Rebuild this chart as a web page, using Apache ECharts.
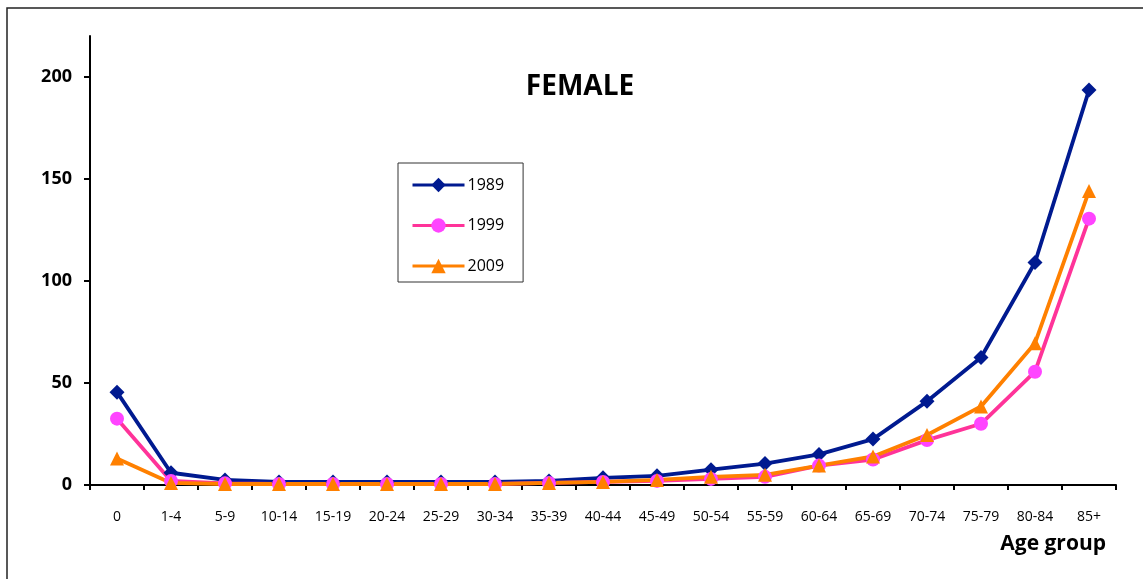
<!DOCTYPE html>
<html>
<head>
<meta charset="utf-8">
<script src="https://cdn.jsdelivr.net/npm/echarts@6/dist/echarts.min.js"></script>
<style>
html,body{margin:0;padding:0;background:#fff;}
#c{width:1143px;height:579px;}
</style>
</head>
<body>
<div id="c"></div>
<script>
const categories = ['0','1-4','5-9','10-14','15-19','20-24','25-29','30-34','35-39','40-44','45-49','50-54','55-59','60-64','65-69','70-74','75-79','80-84','85+'];
const yTicks = [0, 50, 100, 150, 200];
const s1989 = [45.5, 6, 2.5, 1.5, 1.5, 1.5, 1.5, 1.5, 2, 3.5, 4.5, 7.5, 10.5, 15, 22.5, 41, 62.5, 109, 193.5];
const s1999 = [32.5, 2, 0.8, 0.5, 0.5, 0.5, 0.5, 0.5, 1, 1.5, 2, 3, 4, 9.5, 12.5, 22, 30, 55.5, 130.5];
const s2009 = [13, 1, 0.5, 0.5, 0.5, 0.5, 0.5, 0.5, 1, 1.5, 2.5, 4, 5, 9.5, 14, 24.5, 38.5, 69.5, 144];
const font = '"Open Sans", "DejaVu Sans", sans-serif';

const chart = echarts.init(document.getElementById('c'), null, {renderer: 'canvas'});
function mk(name, data, symbol, size, lineColor, symColor) {
  return {
    name: name, type: 'line', data: data, symbol: symbol, symbolSize: size,
    lineStyle: {color: lineColor, width: 3.8},
    itemStyle: {color: symColor, borderWidth: 0},
    emphasis: {disabled: true}
  };
}
chart.setOption({
  animation: false,
  backgroundColor: '#fff',
  grid: {left: 90, right: 27, top: 36, bottom: 94, containLabel: false},
  legend: {
    orient: 'vertical', left: 398, top: 163,
    padding: [14, 19, 8, 13], itemGap: 24.5, itemWidth: 52, itemHeight: 18,
    borderColor: '#333', borderWidth: 1, backgroundColor: '#fff',
    lineStyle: {width: 3},
    textStyle: {fontFamily: font, fontSize: 16, color: '#000', padding: [0,0,0,-2]},
    data: ['1989', '1999', '2009']
  },
  xAxis: {
    type: 'category', data: categories, boundaryGap: true,
    axisLine: {lineStyle: {color: '#000', width: 2}},
    axisTick: {show: true, inside: false, length: 5, lineStyle: {color: '#000', width: 2}},
    axisLabel: {fontFamily: font, fontSize: 14, color: '#000', margin: 25, interval: 0}
  },
  yAxis: {
    type: 'value', min: 0, max: 220, interval: 50,
    splitLine: {show: false},
    axisLine: {show: true, lineStyle: {color: '#000', width: 2}},
    axisTick: {show: true, length: 6, lineStyle: {color: '#000', width: 2}, customValues: yTicks},
    axisLabel: {fontFamily: font, fontSize: 18, fontWeight: 'bold', color: '#000', margin: 18, customValues: yTicks}
  },
  graphic: [
    {type: 'rect', shape: {x: 7, y: 8, width: 1300, height: 700}, style: {fill: 'none', stroke: '#222', lineWidth: 1.5}, z: -10},
    {type: 'text', x: 580, y: 87, style: {text: 'FEMALE', fontFamily: font, fontSize: 28, fontWeight: 'bold', fill: '#000', align: 'center', verticalAlign: 'middle'}},
    {type: 'text', x: 1106, y: 544, style: {text: 'Age group', fontFamily: font, fontSize: 21, fontWeight: 'bold', fill: '#000', align: 'right', verticalAlign: 'middle'}}
  ],
  series: [
    mk('1989', s1989, 'diamond', 15, '#001a90', '#001a90'),
    mk('1999', s1999, 'circle', 14, '#ff3399', '#ff44ff'),
    mk('2009', s2009, 'triangle', 14, '#ff8000', '#ff8000')
  ]
});
</script>
</body>
</html>
